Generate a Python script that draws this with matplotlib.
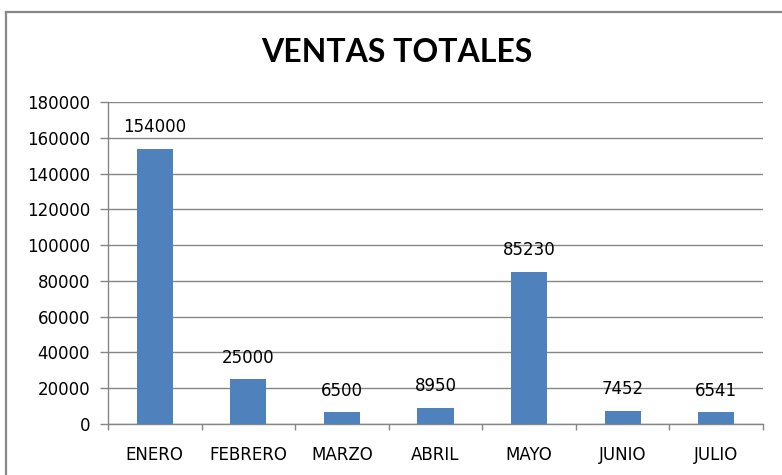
import matplotlib
matplotlib.use("Agg")
import matplotlib.pyplot as plt
from matplotlib.lines import Line2D
import numpy as np

months = ["ENERO", "FEBRERO", "MARZO", "ABRIL", "MAYO", "JUNIO", "JULIO"]
sales = [154000, 25000, 6500, 8950, 85230, 7452, 6541]
y_ticks = [0, 20000, 40000, 60000, 80000, 100000, 120000, 140000, 160000, 180000]

BAR_COLOR = "#4F81BD"
GRID_COLOR = "#868686"
FONT = ["DejaVu Sans"]
TITLE_FONT = ["Lato", "DejaVu Sans"]
LABEL_SIZE = 12

fig = plt.figure(figsize=(7.82, 4.75), dpi=100)
W, H = 782, 475

# chart frame (extends past the right and bottom edges)
frame_kw = dict(color="#888888", linewidth=1.6, transform=fig.transFigure)
fig.add_artist(Line2D([6 / W, 6 / W], [0, 1 - 12 / H], **frame_kw))
fig.add_artist(Line2D([6 / W, 1.0], [1 - 12 / H, 1 - 12 / H], **frame_kw))

ax = fig.add_axes([108 / W, 1 - 424 / H, (763 - 108) / W, (424 - 102) / H])

x = np.arange(len(months))
bars = ax.bar(x, sales, width=0.385, color=BAR_COLOR, zorder=3)

ax.set_xlim(-0.5, len(months) - 0.5)
ax.set_ylim(0, 180000)
ax.set_yticks(y_ticks)
ax.set_yticklabels([str(v) for v in y_ticks], fontfamily=FONT, fontsize=LABEL_SIZE)
ax.yaxis.grid(True, color=GRID_COLOR, linewidth=1, zorder=0)

ax.set_xticks(x)
ax.set_xticklabels(months, fontfamily=FONT, fontsize=LABEL_SIZE)
ax.tick_params(axis="x", length=0, pad=16)
ax.set_xticks(np.arange(-0.5, len(months)), minor=True)
ax.tick_params(axis="x", which="minor", length=4.5, color=GRID_COLOR, width=1)
ax.tick_params(axis="y", length=5.8, color=GRID_COLOR, width=1, pad=7)

for side in ("top", "right"):
    ax.spines[side].set_visible(False)
for side in ("left", "bottom"):
    ax.spines[side].set_color(GRID_COLOR)
    ax.spines[side].set_linewidth(1)

for rect, val in zip(bars, sales):
    ax.annotate(str(val), (rect.get_x() + rect.get_width() / 2, val),
                xytext=(0, 9), textcoords="offset points",
                ha="center", va="bottom", fontfamily=FONT,
                fontsize=LABEL_SIZE, zorder=4)

fig.text(397 / W, 1 - 53 / H, "VENTAS TOTALES", ha="center", va="center",
         fontfamily=TITLE_FONT, fontweight="bold", fontsize=23)

fig.savefig("out.png", dpi=100, facecolor="white")
